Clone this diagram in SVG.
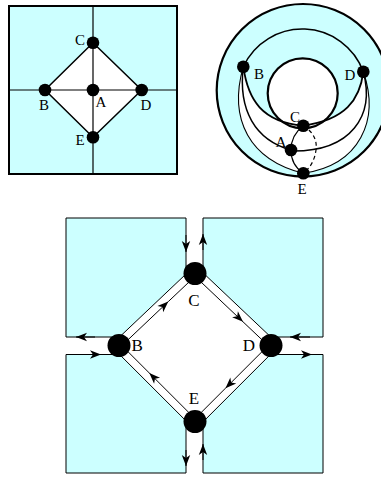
<svg xmlns="http://www.w3.org/2000/svg" width="381" height="477" viewBox="0 0 381 477">
<style>
.cy{fill:#ccffff}
.ln{fill:none;stroke:#000}
.nd{fill:#000}
.lb{font-family:"Liberation Serif","Times New Roman",serif;fill:#000}
.s15{font-size:15px}
.s17{font-size:17px}
.mid{text-anchor:middle}
.end{text-anchor:end}
</style>
<defs>
<marker id="ah" markerUnits="userSpaceOnUse" markerWidth="14" markerHeight="10" viewBox="0 0 14 10" refX="12" refY="5" orient="auto">
<path d="M12,5 L1,0.8 L4,5 L1,9.2 Z" fill="#000"/>
</marker>
</defs>

<!-- top-left diagram -->
<g id="tl-background">
<rect x="9" y="6" width="168" height="168" class="cy" stroke="#000" stroke-width="2"/>
<path d="M93,42.7 L141.7,90 L93,137.3 L45,90 Z" fill="#fff"/>
</g>
<g id="tl-connectors" class="ln">
<line x1="93" y1="6" x2="93" y2="174" stroke-width="1.2"/>
<line x1="9" y1="90" x2="177" y2="90" stroke-width="1.2"/>
<path d="M93,42.7 L141.7,90 L93,137.3 L45,90 Z" stroke-width="1.5"/>
</g>
<g id="tl-C"><circle cx="93" cy="42.7" r="6.3" class="nd"/><text x="80" y="45" class="lb s15 mid">C</text></g>
<g id="tl-B"><circle cx="45" cy="90" r="6.3" class="nd"/><text x="44" y="110" class="lb s15 mid">B</text></g>
<g id="tl-A"><circle cx="93" cy="90" r="6.3" class="nd"/><text x="101" y="107" class="lb s15 mid">A</text></g>
<g id="tl-D"><circle cx="141.7" cy="90" r="6.3" class="nd"/><text x="146" y="110" class="lb s15 mid">D</text></g>
<g id="tl-E"><circle cx="93" cy="137.3" r="6.3" class="nd"/><text x="80" y="145" class="lb s15 mid">E</text></g>

<!-- top-right torus -->
<g id="tr-background">
<path d="M216.7,90.3 A86.3,86.3 0 1 0 389.3,90.3 A86.3,86.3 0 1 0 216.7,90.3 Z M267.7,93.3 A35,35 0 1 0 337.7,93.3 A35,35 0 1 0 267.7,93.3 Z" class="cy" fill-rule="evenodd"/>
<path d="M243.3,66.7 C228,120 250,160 303.3,173.3 C360,165 380,120 363.3,71.7 C360,100 345,120 303.3,125.7 C262,122 248,100 243.3,66.7 Z" fill="#fff"/>
</g>
<g id="tr-connectors" class="ln">
<circle cx="303" cy="90.3" r="86.3" stroke-width="2.2"/>
<circle cx="302.7" cy="93.3" r="35" stroke-width="2.2"/>
<path d="M243.3,66.7 A65,65 0 0 1 363.3,71.7" stroke-width="1.5"/>
<path d="M243.3,66.7 C248,100 262,122 303.3,125.7" stroke-width="1.8"/>
<path d="M243.3,66.7 C238,110 255,140 291,150" stroke-width="1.5"/>
<path d="M243.3,66.7 C228,120 250,160 303.3,173.3" stroke-width="1.1"/>
<path d="M363.3,71.7 C360,100 345,120 303.3,125.7" stroke-width="1.8"/>
<path d="M363.3,71.7 C375,115 352,152 291,151" stroke-width="1.5"/>
<path d="M363.3,71.7 C380,120 360,165 303.3,173.3" stroke-width="1.1"/>
<path d="M303.3,125.7 Q291,135 291,150 Q291,165 303.3,173.3" stroke-width="1.2"/>
<path d="M303.3,125.7 Q318,135 316,150 Q314,165 303.3,173.3" stroke-width="1.2" stroke-dasharray="4,3"/>
</g>
<g id="tr-B"><circle cx="243.3" cy="66.7" r="6.3" class="nd"/><text x="259" y="79" class="lb s15 mid">B</text></g>
<g id="tr-D"><circle cx="363.3" cy="71.7" r="6.3" class="nd"/><text x="350" y="80" class="lb s15 mid">D</text></g>
<g id="tr-C"><circle cx="303.3" cy="125.7" r="6.3" class="nd"/><text x="295" y="122" class="lb s15 mid">C</text></g>
<g id="tr-A"><circle cx="291" cy="150" r="6.3" class="nd"/><text x="281" y="147" class="lb s15 mid">A</text></g>
<g id="tr-E"><circle cx="303.3" cy="173.3" r="6.3" class="nd"/><text x="302" y="193.5" class="lb s15 mid">E</text></g>

<!-- bottom diagram -->
<g id="bt-regions" class="cy" stroke="#000" stroke-width="1">
<path d="M66,218 H186 V274 L119.5,337 H66 Z"/>
<path d="M203,218 H323 V337 H270.8 L203,272.8 Z"/>
<path d="M203,473 H323 V354.5 H270.4 L203,421.9 Z"/>
<path d="M66,473 H186 V420.9 L119.6,354.5 H66 Z"/>
</g>
<g id="bt-connectors" class="ln" stroke-width="1">
<polyline points="120.4,347 168.3,301.6 196.4,275" marker-mid="url(#ah)"/>
<polyline points="193.6,275 243,321.8 269.6,347" marker-mid="url(#ah)"/>
<polyline points="269.6,344.1 225.5,388.2 193.6,420.1" marker-mid="url(#ah)"/>
<polyline points="196.4,420.1 149.3,373 120.4,344.1" marker-mid="url(#ah)"/>
<path d="M186,235 L186,252" marker-end="url(#ah)"/>
<path d="M203,250 L203,234" marker-end="url(#ah)"/>
<path d="M186,450 L186,466" marker-end="url(#ah)"/>
<path d="M203,460 L203,444" marker-end="url(#ah)"/>
<path d="M95,337 L76,337" marker-end="url(#ah)"/>
<path d="M80,354.5 L101,354.5" marker-end="url(#ah)"/>
<path d="M310,337 L290,337" marker-end="url(#ah)"/>
<path d="M295,354.5 L312,354.5" marker-end="url(#ah)"/>
</g>
<g id="bt-C"><circle cx="195" cy="273.5" r="11.5" class="nd"/><text x="194" y="306" class="lb s17 mid">C</text></g>
<g id="bt-B"><circle cx="119" cy="345.5" r="11.5" class="nd"/><text x="131.5" y="350.5" class="lb s17">B</text></g>
<g id="bt-D"><circle cx="271" cy="345.5" r="11.5" class="nd"/><text x="255" y="350.5" class="lb s17 end">D</text></g>
<g id="bt-E"><circle cx="195" cy="421.5" r="11.5" class="nd"/><text x="194" y="404" class="lb s17 mid">E</text></g>
</svg>
